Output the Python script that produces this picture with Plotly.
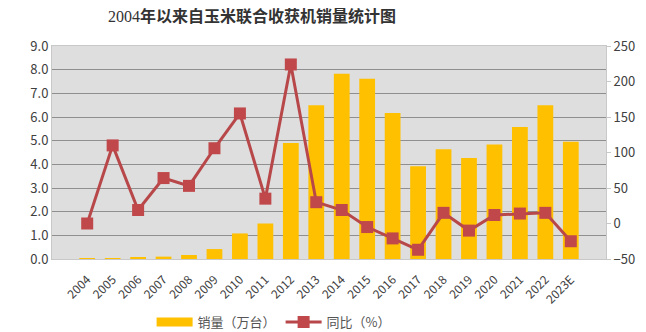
import plotly.graph_objects as go

years = ["2004", "2005", "2006", "2007", "2008", "2009", "2010", "2011", "2012", "2013",
         "2014", "2015", "2016", "2017", "2018", "2019", "2020", "2021", "2022", "2023E"]
sales = [0.01, 0.02, 0.07, 0.1, 0.17, 0.42, 1.08, 1.5, 4.9, 6.5,
         7.83, 7.62, 6.17, 3.92, 4.64, 4.27, 4.84, 5.58, 6.5, 4.95]
yoy = [0, 110, 19, 64, 53, 106, 155, 35, 224, 30,
       19, -5, -21, -37, 15, -10, 12, 14, 15, -25]

left_ticks = [0, 1, 2, 3, 4, 5, 6, 7, 8, 9]
right_ticks = [-50, 0, 50, 100, 150, 200, 250]

font_main = "Noto Sans CJK SC, Open Sans, sans-serif"
tick_color = "#404040"
bar_color = "#FFC000"

fig = go.Figure()
fig.add_trace(go.Bar(
    x=years, y=sales, name="销量（万台）",
    marker=dict(color=bar_color, line=dict(width=0)),
    yaxis="y", showlegend=False,
))
# legend entry for the bars, drawn as a wide swatch
fig.add_trace(go.Scatter(
    x=[None], y=[None], name="销量（万台）", mode="lines",
    line=dict(color=bar_color, width=9),
    yaxis="y",
))
fig.add_trace(go.Scatter(
    x=years, y=yoy, name="同比（%）", mode="lines+markers",
    line=dict(color="#B8474A", width=3),
    marker=dict(symbol="square", size=12, color="#C0484B"),
    yaxis="y2",
))

fig.update_layout(
    width=646, height=332,
    margin=dict(l=52, r=40, t=46, b=73, autoexpand=False),
    paper_bgcolor="white",
    plot_bgcolor="#dedede",
    bargap=0.38,
    title=dict(
        text="<span style='font-family:Liberation Serif'>2004</span><b>年以来自玉米联合收获机销量统计图</b>",
        x=0.39, xanchor="center", y=0.95, yanchor="middle",
        font=dict(family=font_main, size=16, color="#333333"),
    ),
    xaxis=dict(
        type="category", tickangle=-45, showgrid=False,
        tickfont=dict(family=font_main, size=12, color=tick_color),
        showline=True, linecolor="#c8c8c8", mirror=True,
        ticks="outside", ticklen=8, tickcolor="rgba(0,0,0,0)", automargin=False,
    ),
    yaxis=dict(
        range=[0, 9], tickvals=left_ticks,
        ticktext=[f"{v:.1f}" for v in left_ticks],
        tickfont=dict(family=font_main, size=13, color=tick_color),
        gridcolor="#8f8f8f", gridwidth=1, zeroline=False,
        showline=True, linecolor="#c8c8c8", automargin=False,
    ),
    yaxis2=dict(
        range=[-50, 250], tickvals=right_ticks, overlaying="y", side="right",
        tickfont=dict(family=font_main, size=13, color=tick_color),
        showgrid=False, zeroline=False,
        showline=True, linecolor="#c8c8c8",
        ticks="outside", ticklen=4, tickcolor="#c8c8c8", automargin=False,
    ),
    legend=dict(
        orientation="h", x=0.40, xanchor="center",
        yref="container", y=0.03, yanchor="middle",
        font=dict(family=font_main, size=13, color="#555555"),
        itemwidth=36, tracegroupgap=0,
    ),
    showlegend=True,
)

fig.write_html("out.html")
